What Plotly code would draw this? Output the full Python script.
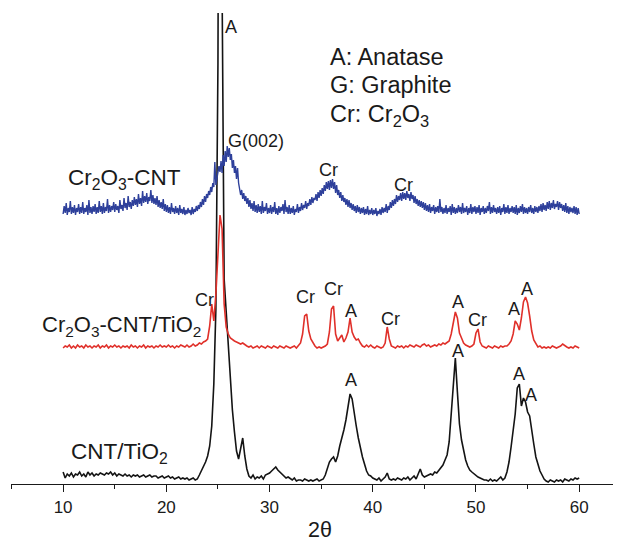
import numpy as np
import plotly.graph_objects as go

# 2-theta sampling grids (degrees)
two_theta = np.round(np.arange(10.0, 60.0001, 0.2), 1)       # black and red
two_theta_fine = np.round(np.arange(10.0, 60.0001, 0.1), 1)  # blue (noisier)

# Intensities (arbitrary units, already stacked)
cnt_tio2 = [
    12, 6, 10, 8, 11,
    7, 10, 9, 12, 8,
    10, 7, 12, 9, 11,
    8, 10, 9, 11, 10,
    9, 11, 10, 12, 9,
    11, 8, 10, 9, 8,
    10, 8, 9, 7, 9,
    8, 9, 7, 8, 9,
    7, 8, 9, 7, 8,
    8, 6, 7, 8, 6,
    7, 8, 6, 7, 5,
    6, 7, 5, 6, 5,
    6, 4, 5, 6, 4,
    5, 9, 13, 17, 22,
    28, 38, 58, 100, 175,
    420, 1100, 500, 205, 170,
    135, 101, 74, 52, 33,
    25, 36, 46, 28, 15,
    8, 6, 9, 5, 7,
    6, 8, 5, 9, 10,
    11, 13, 15, 17, 14,
    12, 9, 8, 6, 7,
    5, 4, 6, 3, 4,
    4, 3, 5, 4, 3,
    4, 3, 4, 5, 3,
    4, 5, 9, 15, 22,
    25, 27, 22, 28, 38,
    45, 54, 64, 78, 90,
    85, 70, 58, 46, 36,
    27, 20, 13, 9, 8,
    6, 5, 4, 6, 3,
    5, 7, 11, 5, 4,
    5, 4, 6, 5, 4,
    6, 5, 7, 4, 6,
    8, 5, 10, 15, 9,
    7, 8, 9, 10, 9,
    12, 11, 14, 16, 19,
    24, 29, 42, 70, 92,
    126, 92, 60, 44, 32,
    24, 18, 14, 12, 10,
    8, 7, 6, 5, 4,
    4, 3, 5, 3, 4,
    3, 5, 7, 4, 6,
    12, 22, 37, 53, 70,
    96, 100, 78, 86, 82,
    72, 68, 56, 40, 27,
    20, 13, 9, 5, 3,
    2, 4, 3, 2, 4,
    3, 4, 2, 5, 4,
    3, 5, 4, 6, 5,
    6,
]

cr2o3_cnt_tio2 = [
    136, 138, 137, 139, 136,
    138, 136, 139, 137, 138,
    136, 139, 137, 138, 136,
    138, 137, 139, 136, 138,
    137, 139, 136, 138, 137,
    139, 137, 138, 136, 138,
    137, 138, 136, 139, 137,
    138, 136, 138, 137, 139,
    136, 138, 137, 138, 136,
    138, 137, 139, 137, 138,
    137, 139, 137, 138, 136,
    138, 137, 139, 138, 137,
    139, 137, 138, 140, 138,
    139, 141, 140, 142, 143,
    145, 158, 180, 163, 190,
    232, 269, 255, 180, 157,
    150, 146, 144, 143, 142,
    141, 140, 141, 139, 138,
    137, 138, 136, 137, 138,
    136, 138, 137, 136, 138,
    137, 136, 138, 137, 136,
    138, 137, 136, 138, 137,
    136, 137, 138, 136, 138,
    141, 150, 168, 170, 153,
    145, 141, 138, 136, 137,
    136, 137, 138, 140, 152,
    175, 178, 150, 143, 146,
    149, 142, 146, 152, 166,
    152, 147, 144, 145, 141,
    138, 137, 139, 137, 139,
    137, 136, 138, 137, 136,
    137, 141, 157, 145, 138,
    137, 136, 138, 137, 138,
    136, 138, 137, 139, 138,
    137, 139, 138, 137, 139,
    140, 138, 139, 137, 138,
    139, 138, 140, 139, 141,
    140, 142, 143, 150, 162,
    172, 166, 151, 146, 141,
    139, 138, 137, 138, 140,
    151, 155, 142, 138, 137,
    136, 138, 137, 136, 138,
    137, 136, 138, 137, 138,
    138, 140, 143, 150, 163,
    160, 154, 166, 182, 187,
    181, 168, 153, 144, 140,
    137, 138, 136, 137, 136,
    137, 136, 138, 137, 136,
    137, 138, 140, 138, 137,
    136, 137, 136, 138, 137,
    136,
]

cr2o3_cnt = [
    270, 278, 271, 281, 269, 276, 272, 283, 270, 277,
    271, 279, 269, 276, 272, 280, 270, 277, 271, 282,
    270, 276, 272, 279, 269, 284, 271, 277, 270, 278,
    272, 280, 270, 277, 271, 283, 272, 278, 270, 281,
    271, 277, 273, 285, 271, 279, 272, 278, 274, 282,
    272, 280, 274, 278, 271, 284, 275, 279, 273, 286,
    276, 281, 274, 288, 277, 282, 275, 284, 278, 287,
    279, 285, 277, 290, 280, 286, 278, 293, 281, 288,
    282, 291, 280, 287, 283, 294, 281, 289, 280, 286,
    279, 288, 277, 284, 276, 282, 275, 285, 273, 280,
    272, 279, 271, 277, 270, 281, 272, 276, 270, 278,
    271, 276, 269, 279, 271, 275, 270, 277, 269, 274,
    270, 276, 271, 274, 269, 277, 270, 275, 272, 278,
    273, 279, 275, 282, 277, 285, 279, 288, 282, 290,
    286, 293, 289, 297, 292, 301, 297, 322, 299, 305,
    309, 318, 312, 323, 311, 329, 318, 333, 322, 338,
    327, 336, 324, 330, 316, 324, 311, 318, 305, 316,
    301, 296, 289, 294, 285, 291, 283, 288, 280, 286,
    277, 284, 275, 281, 273, 283, 272, 279, 271, 280,
    272, 278, 270, 283, 271, 277, 273, 281, 270, 276,
    271, 279, 270, 277, 272, 282, 270, 276, 269, 278,
    271, 277, 273, 280, 270, 284, 272, 277, 270, 279,
    270, 276, 271, 278, 269, 275, 272, 280, 271, 277,
    273, 281, 274, 279, 276, 283, 275, 281, 278, 285,
    279, 287, 281, 286, 284, 290, 283, 292, 286, 294,
    288, 296, 290, 299, 293, 302, 295, 303, 294, 304,
    296, 305, 295, 302, 291, 299, 289, 294, 286, 292,
    283, 289, 282, 286, 279, 285, 277, 284, 276, 281,
    274, 280, 273, 278, 271, 279, 272, 277, 270, 276,
    271, 277, 269, 275, 270, 278, 269, 274, 270, 276,
    269, 274, 270, 276, 268, 273, 270, 275, 269, 277,
    271, 276, 272, 280, 271, 278, 274, 282, 276, 284,
    278, 285, 280, 289, 282, 288, 284, 291, 283, 292,
    285, 291, 284, 293, 286, 290, 283, 292, 285, 289,
    281, 288, 280, 285, 278, 284, 277, 283, 276, 282,
    274, 281, 273, 279, 272, 280, 271, 277, 273, 279,
    270, 277, 272, 278, 271, 285, 272, 277, 270, 276,
    271, 279, 270, 276, 272, 278, 269, 280, 271, 277,
    270, 276, 271, 279, 272, 277, 270, 281, 271, 276,
    272, 278, 269, 276, 271, 280, 270, 277, 272, 278,
    270, 277, 271, 279, 269, 276, 272, 278, 270, 276,
    271, 278, 273, 282, 270, 277, 271, 279, 272, 276,
    270, 277, 271, 278, 269, 276, 272, 280, 270, 277,
    271, 279, 270, 276, 272, 278, 271, 277, 270, 279,
    269, 276, 271, 278, 272, 280, 270, 277, 271, 276,
    270, 277, 272, 279, 271, 276, 270, 278, 272, 277,
    271, 278, 273, 280, 272, 281, 274, 279, 273, 282,
    275, 283, 274, 281, 276, 284, 275, 280, 277, 283,
    274, 282, 276, 280, 273, 279, 272, 281, 271, 278,
    270, 277, 272, 276, 271, 278, 270, 277, 269, 276,
    270,
]

series_names = ["CNT/TiO<sub>2</sub>",
                "Cr<sub>2</sub>O<sub>3</sub>-CNT/TiO<sub>2</sub>",
                "Cr<sub>2</sub>O<sub>3</sub>-CNT"]
series_colors = ["#141414", "#e0302a", "#2e409b"]

legend_lines = ["A: Anatase", "G: Graphite", "Cr: Cr<sub>2</sub>O<sub>3</sub>"]

x_ticks = [10, 20, 30, 40, 50, 60]

FONT = "Liberation Sans, Arial, Helvetica, sans-serif"

fig = go.Figure()
for xs, ys, name, col, w in zip([two_theta, two_theta, two_theta_fine],
                                [cnt_tio2, cr2o3_cnt_tio2, cr2o3_cnt], series_names,
                                series_colors, [1.6, 1.6, 1.4]):
    fig.add_trace(go.Scatter(x=xs, y=ys, mode="lines", name=name,
                             line=dict(color=col, width=w), hoverinfo="skip"))

annotations = []

def label(text, x, y, size=18, anchor="center", yanchor="middle"):
    annotations.append(dict(text=text, x=x, y=y, xref="x", yref="y",
                            showarrow=False, xanchor=anchor, yanchor=yanchor,
                            font=dict(family=FONT, size=size, color="#1a1a1a")))

# peak labels
label("A", 26.27, 457.5)
label("G(002)", 28.69, 343.5)
label("Cr", 35.67, 314)
label("Cr", 42.93, 299)
label("Cr", 23.65, 184)
label("Cr", 33.44, 187)
label("Cr", 36.15, 195)
label("A", 37.9, 173.5)
label("Cr", 41.67, 165)
label("A", 48.26, 182.5)
label("Cr", 50.10, 164)
label("A", 53.69, 175.5)
label("A", 54.95, 195)
label("A", 37.9, 104)
label("A", 48.26, 133)
label("A", 54.18, 110.5)
label("A", 55.34, 89)

# series labels
label(series_names[2], 10.3, 305, size=22.5, anchor="left")
label(series_names[1], 7.75, 158, size=22, anchor="left")
label(series_names[0], 10.55, 31.5, size=22.5, anchor="left")

# key
for txt, yy in zip(legend_lines, [427, 399, 369]):
    label(txt, 35.7, yy, size=23.5, anchor="left")

# axis title
annotations.append(dict(text="2θ", x=34.9, y=-0.0975, xref="x", yref="paper",
                        showarrow=False, xanchor="center", yanchor="middle",
                        font=dict(family=FONT, size=21.5, color="#1a1a1a")))

# the page body adds an 8 px offset, so the figure is sized to fit the window
fig.update_layout(
    width=613, height=535,
    margin=dict(l=3, r=0, t=5, b=59),
    paper_bgcolor="white", plot_bgcolor="white",
    showlegend=False,
    annotations=annotations,
    xaxis=dict(range=[4.95, 64.05], tickvals=x_ticks, ticks="outside",
               ticklen=7, tickwidth=1.3, tickcolor="#1a1a1a",
               showline=True, linecolor="#1a1a1a", linewidth=1.3,
               showgrid=False, zeroline=False,
               tickfont=dict(family=FONT, size=17, color="#1a1a1a"),
               minor=dict(ticks="outside", ticklen=4, tickwidth=1.3,
                          tickcolor="#1a1a1a", dtick=5, tick0=0, showgrid=False)),
    yaxis=dict(range=[0, 471], visible=False, showgrid=False, zeroline=False),
)

fig.write_html("out.html")
